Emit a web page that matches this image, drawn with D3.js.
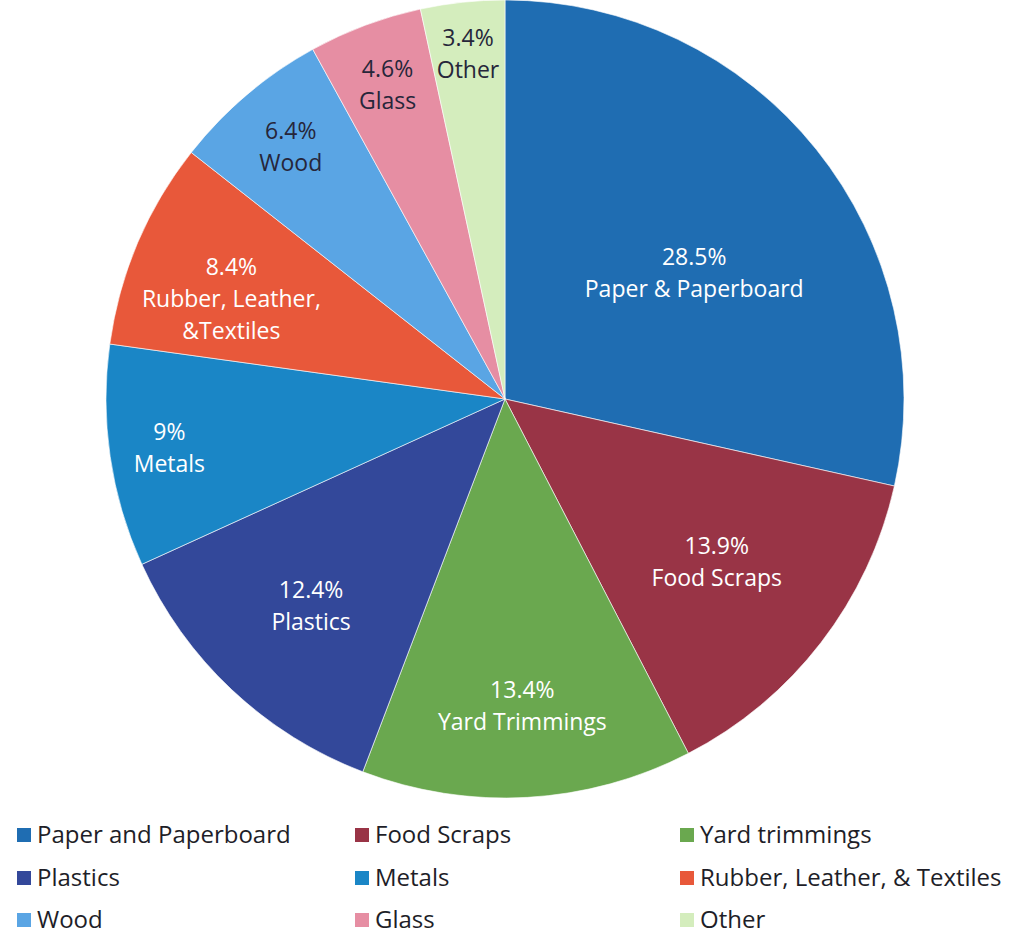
<!DOCTYPE html>
<html>
<head>
<meta charset="utf-8">
<script src="https://cdn.jsdelivr.net/npm/d3@7"></script>
<style>
  body { margin: 0; background: #fff; }
  text { font-family: "Open Sans", Lato, sans-serif; }
</style>
</head>
<body>
<div id="chart"></div>
<script>
// data
var categories = ['Paper & Paperboard', 'Food Scraps', 'Yard Trimmings', 'Plastics', 'Metals',
  'Rubber, Leather,|&Textiles', 'Wood', 'Glass', 'Other']
var legendNames = ['Paper and Paperboard', 'Food Scraps', 'Yard trimmings', 'Plastics', 'Metals',
  'Rubber, Leather, & Textiles', 'Wood', 'Glass', 'Other']
var values = [28.5, 13.9, 13.4, 12.4, 9, 8.4, 6.4, 4.6, 3.4]
var valueLabels = ['28.5%', '13.9%', '13.4%', '12.4%', '9%', '8.4%', '6.4%', '4.6%', '3.4%']

var colors = ['#1f6db2', '#993446', '#6aa84f', '#33489a', '#1a86c6', '#e8583a', '#5aa5e4', '#e68ea3', '#d4edbd']
var textColors = ['#fff', '#fff', '#fff', '#fff', '#fff', '#fff', '#26263a', '#26263a', '#26263a']
// label placement, hand tuned like the original (share of radius, angle nudge in degrees)
var labelRadius = [0.57, 0.67, 0.77, 0.71, 0.85, 0.73, 0.83, 0.84, 0.87]
var labelShift = [5, 0, 0, 0, 0, -3, 0, 0, 0]

var width = 1012
var height = 939
var cx = 505
var cy = 399
var radius = 399

var svg = d3.select('#chart').append('svg')
  .attr('width', width)
  .attr('height', height)

var pie = d3.pie().sort(null).value(function (d) { return d })
var arcs = pie(values)
var arc = d3.arc().innerRadius(0).outerRadius(radius)

var g = svg.append('g').attr('transform', 'translate(' + cx + ',' + cy + ')')

g.selectAll('path')
  .data(arcs)
  .enter().append('path')
  .attr('d', arc)
  .attr('fill', function (d, i) { return colors[i] })
  .attr('stroke', '#fff')
  .attr('stroke-width', 0.6)

var labels = g.selectAll('text.lbl')
  .data(arcs)
  .enter().append('text')
  .attr('class', 'lbl')
  .attr('text-anchor', 'middle')
  .attr('font-size', 23)
  .attr('fill', function (d, i) { return textColors[i] })
  .attr('transform', function (d, i) {
    var a = (d.startAngle + d.endAngle) / 2 + labelShift[i] * Math.PI / 180
    var r = radius * labelRadius[i]
    return 'translate(' + (r * Math.sin(a)) + ',' + (-r * Math.cos(a)) + ')'
  })

labels.each(function (d, i) {
  var lines = [valueLabels[i]].concat(categories[i].split('|'))
  var t = d3.select(this)
  var top = -(lines.length - 1) * 32 / 2
  lines.forEach(function (s, j) {
    t.append('tspan').attr('x', 0).attr('y', top + j * 32).attr('dy', '0.35em').text(s)
  })
})

// legend, three columns
var colX = [17, 355, 680]
var rowY = [835, 878, 920]
var legend = svg.append('g')
  .selectAll('g')
  .data(legendNames)
  .enter().append('g')
  .attr('transform', function (d, i) {
    return 'translate(' + colX[i % 3] + ',' + rowY[Math.floor(i / 3)] + ')'
  })

legend.append('rect')
  .attr('x', 0).attr('y', -7)
  .attr('width', 14).attr('height', 14)
  .attr('fill', function (d, i) { return colors[i] })

legend.append('text')
  .attr('x', 20)
  .attr('dy', '0.35em')
  .attr('font-size', 24)
  .attr('fill', '#1e1e28')
  .text(function (d) { return d })
</script>
</body>
</html>
